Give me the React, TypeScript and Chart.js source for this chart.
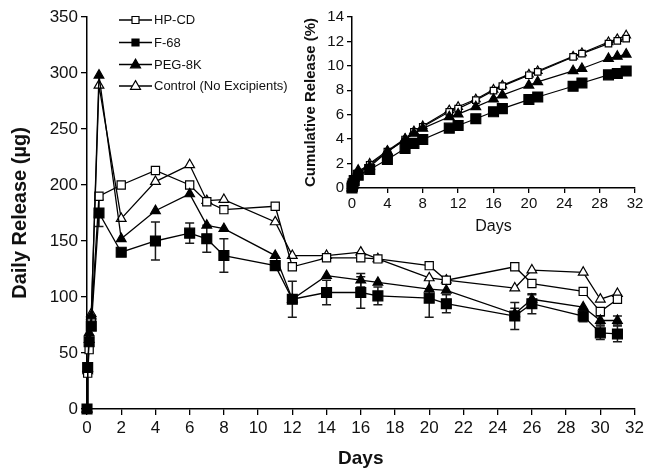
import { useEffect, useRef } from "react";
import { Chart, registerables } from "chart.js";

Chart.register(...registerables);

const FONT = "'Liberation Sans', Arial, Helvetica, sans-serif";

// Sampling days (shared by both panels)
const days = [0, 0.04, 0.125, 0.25, 0.7, 2, 4, 6, 7, 8, 11, 12, 14, 16, 17, 20, 21, 25, 26, 29, 30, 31];

const seriesNames = ["HP-CD", "F-68", "PEG-8K", "Control (No Excipients)"];

// Daily release (µg)
const dailyHPCD = [0, 32, 53, 80, 190, 200, 213, 200, 185, 178, 181, 127, 135, 135, 134, 128, 115, 127, 112, 105, 87, 98];
const dailyF68 = [0, 37, 60, 74, 175, 140, 150, 157, 152, 137, 128, 98, 104, 104, 101, 99, 94, 83, 94, 83, 68, 67];
const dailyPEG = [0, 36, 68, 83, 298, 152, 177, 192, 164, 161, 137, 98, 119, 115, 113, 107, 106, 85, 98, 91, 79, 79];
const dailyControl = [0, 34, 62, 85, 289, 170, 203, 218, 186, 187, 167, 137, 137, 140, 134, 117, 115, 108, 124, 122, 98, 103];

// Standard deviations of daily release
const sdF68 = [0, 0, 0, 0, 12, 0, 17, 9, 12, 15, 3, 16, 11, 14, 8, 17, 8, 12, 9, 5, 6, 7];
const sdPEG = [0, 0, 0, 0, 0, 0, 0, 0, 0, 0, 0, 0, 0, 6, 0, 0, 0, 5, 4, 0, 4, 4];

// Cumulative release (%)
const cumHPCD = [0, 0.15, 0.4, 0.7, 1.2, 1.9, 2.97, 3.97, 4.6, 5.01, 6.24, 6.5, 7.19, 7.97, 8.34, 9.23, 9.5, 10.73, 11.0, 11.82, 12.04, 12.23];
const cumF68 = [0, 0.15, 0.35, 0.6, 1.05, 1.52, 2.34, 3.24, 3.65, 3.97, 4.9, 5.12, 5.67, 6.24, 6.5, 7.24, 7.45, 8.33, 8.6, 9.26, 9.37, 9.58];
const cumPEG = [0, 0.2, 0.45, 0.8, 1.45, 1.75, 2.97, 3.97, 4.47, 4.88, 5.83, 6.05, 6.64, 7.27, 7.6, 8.41, 8.69, 9.59, 9.78, 10.6, 10.78, 10.95];
const cumControl = [0, 0.2, 0.4, 0.75, 1.3, 2.0, 3.06, 4.04, 4.66, 5.07, 6.37, 6.65, 7.27, 8.06, 8.4, 9.3, 9.58, 10.78, 11.05, 11.95, 12.2, 12.5];

const mainYTicks = [0, 350, 50];
const mainXTicks = [0, 32, 2];
const insetYTicks = [0, 14, 2];
const insetXTicks = [0, 32, 4];

// Stacking of series: lower numbers are painted on top
const drawOrder = [2, 0, 1, 3];

type Marker = { style: "rect" | "triangle"; filled: boolean };
const markers: Marker[] = [
  { style: "rect", filled: false },
  { style: "rect", filled: true },
  { style: "triangle", filled: true },
  { style: "triangle", filled: false },
];

function makeDataset(label: string, values: number[], m: Marker, radius: number, lineWidth: number, order: number, sd?: number[]) {
  return {
    label,
    data: days.map((d, i) => ({ x: d, y: values[i] })),
    borderColor: "#000",
    borderWidth: lineWidth,
    pointStyle: m.style,
    pointRadius: radius,
    pointBorderWidth: 1.2,
    pointBorderColor: "#000",
    pointBackgroundColor: m.filled ? "#000" : "#fff",
    showLine: true,
    tension: 0,
    clip: false,
    order,
    errors: sd,
  };
}

function drawMarker(ctx: CanvasRenderingContext2D, m: Marker, x: number, y: number, size: number) {
  ctx.save();
  ctx.beginPath();
  if (m.style === "rect") {
    ctx.rect(x - size / 2, y - size / 2, size, size);
  } else {
    const h = size * 0.87;
    ctx.moveTo(x, y - h * 0.62);
    ctx.lineTo(x + size / 2, y + h * 0.38);
    ctx.lineTo(x - size / 2, y + h * 0.38);
    ctx.closePath();
  }
  ctx.fillStyle = m.filled ? "#000" : "#fff";
  ctx.fill();
  ctx.lineWidth = 1.2;
  ctx.strokeStyle = "#000";
  ctx.stroke();
  ctx.restore();
}

// Vertical error bars with caps, drawn beneath the markers
const errorBarPlugin = {
  id: "errorBars",
  beforeDatasetsDraw(chart: any) {
    const { ctx, scales } = chart;
    ctx.save();
    ctx.strokeStyle = "#1a1a1a";
    ctx.lineWidth = 1.5;
    chart.data.datasets.forEach((ds: any) => {
      if (!ds.errors) return;
      ds.data.forEach((p: any, i: number) => {
        const e = ds.errors[i];
        if (!e) return;
        const x = scales.x.getPixelForValue(p.x);
        const y1 = scales.y.getPixelForValue(p.y + e);
        const y2 = scales.y.getPixelForValue(p.y - e);
        ctx.beginPath();
        ctx.moveTo(x, y1);
        ctx.lineTo(x, y2);
        ctx.moveTo(x - 4.5, y1);
        ctx.lineTo(x + 4.5, y1);
        ctx.moveTo(x - 4.5, y2);
        ctx.lineTo(x + 4.5, y2);
        ctx.stroke();
      });
    });
    ctx.restore();
  },
};

// Legend with a short line through each marker
const legendPlugin = {
  id: "lineLegend",
  afterDraw(chart: any) {
    const { ctx } = chart;
    const x0 = 119;
    const x1 = 152;
    const rows = [20, 42.5, 64.5, 86];
    ctx.save();
    ctx.font = `13px ${FONT}`;
    ctx.textBaseline = "middle";
    ctx.fillStyle = "#111";
    seriesNames.forEach((name, i) => {
      const y = rows[i];
      ctx.beginPath();
      ctx.strokeStyle = "#000";
      ctx.lineWidth = 1.3;
      ctx.moveTo(x0, y);
      ctx.lineTo(x1, y);
      ctx.stroke();
      drawMarker(ctx, markers[i], (x0 + x1) / 2, y, markers[i].style === "rect" ? 7 : 10);
      ctx.fillText(name, x1 + 2, y + 0.5);
    });
    ctx.restore();
  },
};

function axis(min: number, max: number, step: number, fontSize: number, tickLength: number, pad: number, title: string, titleFont: any, titlePadding: any, fit: (s: any) => void) {
  return {
    type: "linear" as const,
    min,
    max,
    afterFit: fit,
    ticks: {
      stepSize: step,
      autoSkip: false,
      maxRotation: 0,
      padding: pad,
      color: "#111",
      font: { family: FONT, size: fontSize },
    },
    grid: {
      display: true,
      drawOnChartArea: false,
      drawTicks: true,
      tickLength,
      color: "#000",
      lineWidth: 1.3,
    },
    border: { display: true, color: "#000", width: 1.5 },
    title: {
      display: true,
      text: title,
      color: "#111",
      font: titleFont,
      padding: titlePadding,
    },
  };
}

export default function App() {
  const mainRef = useRef<HTMLCanvasElement | null>(null);
  const insetRef = useRef<HTMLCanvasElement | null>(null);

  useEffect(() => {
    const dailySeries = [dailyHPCD, dailyF68, dailyPEG, dailyControl];
    const dailySd = [undefined, sdF68, sdPEG, undefined];
    const mainRadius = [5.8, 7, 5.6, 5.6];

    const main = new Chart(mainRef.current as HTMLCanvasElement, {
      type: "scatter",
      data: {
        datasets: seriesNames.map((n, i) =>
          makeDataset(n, dailySeries[i], markers[i], mainRadius[i], 1.3, drawOrder[i], dailySd[i])
        ) as any,
      },
      options: {
        animation: false,
        responsive: false,
        devicePixelRatio: 1,
        layout: { padding: { left: 0, right: 11, top: 17, bottom: 0 } },
        plugins: { legend: { display: false }, tooltip: { enabled: false } },
        scales: {
          x: axis(mainXTicks[0], mainXTicks[1], mainXTicks[2], 17, 6, 3, "Days",
            { family: FONT, size: 19, weight: "bold" }, { top: 0, bottom: 1 },
            (s: any) => { s.height = 62; }) as any,
          y: axis(mainYTicks[0], mainYTicks[1], mainYTicks[2], 17, 6, 3, "Daily Release (µg)",
            { family: FONT, size: 20, weight: "bold" }, { top: 8, bottom: 0 },
            (s: any) => { s.width = 87; }) as any,
        },
      },
      plugins: [errorBarPlugin, legendPlugin],
    });

    const cumSeries = [cumHPCD, cumF68, cumPEG, cumControl];
    const insetRadius = [4.6, 7, 5.6, 5];

    const inset = new Chart(insetRef.current as HTMLCanvasElement, {
      type: "scatter",
      data: {
        datasets: seriesNames.map((n, i) =>
          makeDataset(n, cumSeries[i], markers[i], insetRadius[i], 1.2, drawOrder[i])
        ) as any,
      },
      options: {
        animation: false,
        responsive: false,
        devicePixelRatio: 1,
        layout: { padding: { left: 0, right: 12, top: 17, bottom: 0 } },
        plugins: { legend: { display: false }, tooltip: { enabled: false } },
        scales: {
          x: axis(insetXTicks[0], insetXTicks[1], insetXTicks[2], 15, 5, 2, "Days",
            { family: FONT, size: 16 }, { top: 0, bottom: 4 },
            (s: any) => { s.height = 52; }) as any,
          y: axis(insetYTicks[0], insetYTicks[1], insetYTicks[2], 15, 5, 3, "Cumulative Release (%)",
            { family: FONT, size: 15, weight: "bold" }, { top: 12, bottom: 0 },
            (s: any) => { s.width = 62; }) as any,
        },
      },
    });

    return () => {
      main.destroy();
      inset.destroy();
    };
  }, []);

  return (
    <div style={{ position: "fixed", left: 0, top: 0, width: 647, height: 471, background: "#fff" }}>
      <canvas ref={mainRef} width={647} height={471} style={{ position: "absolute", left: 0, top: 0, width: 647, height: 471 }} />
      <canvas ref={insetRef} width={357} height={240} style={{ position: "absolute", left: 290, top: 0, width: 357, height: 240 }} />
    </div>
  );
}
